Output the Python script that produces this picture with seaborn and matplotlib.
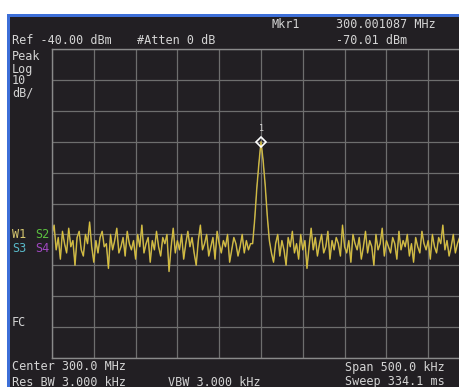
import numpy as np
import pandas as pd
import seaborn as sns
import matplotlib.pyplot as plt
from matplotlib.patches import Rectangle

# trace values (dBm), 201 points over a 500 kHz span centred at 300 MHz
noise_left = [
    -100, -97, -105, -101, -108, -99, -103, -106, -98, -104,
    -102, -110, -101, -99, -105, -107, -100, -103, -96, -104,
    -109, -102, -106, -101, -99, -104, -103, -111, -100, -105,
    -102, -98, -106, -104, -101, -107, -99, -103, -105, -102,
    -108, -100, -104, -97, -106, -103, -101, -109, -102, -105,
    -99, -104, -107, -101, -103, -100, -112, -104, -98, -106,
    -102, -105, -100, -108, -103, -99, -104, -101, -106, -110,
    -102, -97, -105, -103, -100, -107, -104, -101, -108, -99,
    -103, -106, -102, -104, -100, -109, -105, -101, -103, -107,
    -104, -100, -106, -102, -105, -103,
]
peak = [-103, -95, -85, -77, -70.01, -76, -84, -94, -102]
noise_right = [
    -106, -109, -103, -100, -107, -102, -105, -110, -101, -104,
    -99, -106, -103, -108, -100, -105, -102, -111, -104, -98,
    -105, -101, -107, -103, -100, -106, -104, -99, -108, -102,
    -105, -101, -103, -107, -97, -104, -106, -102, -109, -100,
    -103, -105, -101, -108, -104, -99, -106, -102, -104, -110,
    -100, -105, -103, -98, -107, -102, -104, -106, -101, -103,
    -108, -99, -105, -102, -104, -100, -107, -103, -109, -101,
    -104, -106, -99, -103, -105, -102, -108, -100, -104, -106,
    -101, -103, -97, -105, -102, -107, -104, -100, -106, -103,
    -101, -108, -102, -105, -99, -104,
]
center_mhz = 300.0
span_mhz = 0.5
ref_level = -40.0
db_per_div = 10

level = noise_left + peak + noise_right
freq = np.linspace(center_mhz - span_mhz / 2, center_mhz + span_mhz / 2, len(level))
df = pd.DataFrame({'freq': freq, 'level': level})

W, H = 460, 387
BG = '#221f23'
TXT = '#d4d4d4'

sns.set_theme(style='dark')
plt.rcParams['font.family'] = ['DejaVu Sans Mono']

fig = plt.figure(figsize=(W / 100, H / 100), dpi=100, facecolor='white')
# blue frame and dark screen (kept behind the axes)
fig.patches.append(Rectangle((7 / W, 0), 1, (H - 14) / H, transform=fig.transFigure,
                             facecolor='#3d6fd8', edgecolor='none', zorder=-5))
fig.patches.append(Rectangle((10 / W, 0), 1, (H - 17) / H, transform=fig.transFigure,
                             facecolor=BG, edgecolor='none', zorder=-4))

# graticule: left 52px, 418px wide (cut at right edge), top 49px, bottom 358px
ax = fig.add_axes([52 / W, (H - 358) / H, 418 / W, 309 / H])
ax.set_zorder(2)
ax.set_facecolor(BG)
sns.lineplot(data=df, x='freq', y='level', ax=ax, color='#a89c58', linewidth=1.1)
sns.lineplot(data=df, x='freq', y='level', ax=ax, color='#f2d22a', linewidth=0.5, alpha=0.8)

ax.set_xlim(center_mhz - span_mhz / 2, center_mhz + span_mhz / 2)
ax.set_ylim(ref_level - 10 * db_per_div, ref_level)
ax.set_xticks(np.linspace(center_mhz - span_mhz / 2, center_mhz + span_mhz / 2, 11))
ax.set_yticks(np.linspace(ref_level - 10 * db_per_div, ref_level, 11))
ax.set_xticklabels([])
ax.set_yticklabels([])
ax.tick_params(length=0)
ax.grid(True, color='#6e6e6e', linewidth=0.9)
ax.set_axisbelow(True)
ax.set_xlabel('')
ax.set_ylabel('')
for s in ax.spines.values():
    s.set_color('#8a8a8a')
    s.set_linewidth(1.0)

# marker 1
i = int(np.argmax(level))
ax.plot(freq[i], level[i], marker='D', markersize=5, markerfacecolor='none',
        markeredgecolor='white', markeredgewidth=1.2, zorder=5)
ax.annotate('1', (freq[i], level[i]), xytext=(0, 6), textcoords='offset points',
            ha='center', va='bottom', color=TXT, fontsize=6)


def label(x, y, s, color=TXT):
    fig.text(x / W, 1 - y / H, s, color=color, fontsize=8.5, va='center', ha='left')


label(12, 40, 'Ref -40.00 dBm')
label(137, 40, '#Atten 0 dB')
label(271, 25, 'Mkr1')
label(336, 25, '300.001087 MHz')
label(336, 41, '-70.01 dBm')
label(12, 57, 'Peak')
label(12, 69, 'Log')
label(12, 81, '10')
label(12, 93, 'dB/')
label(12, 234, 'W1', '#d8c870')
label(35, 234, 'S2', '#5cc040')
label(12, 249, 'S3', '#58b8c8')
label(35, 249, 'S4', '#a048c0')
label(12, 322, 'FC')
label(12, 367, 'Center 300.0 MHz')
label(12, 382, 'Res BW 3.000 kHz')
label(168, 382, 'VBW 3.000 kHz')
label(345, 367, 'Span 500.0 kHz')
label(345, 382, 'Sweep 334.1 ms')

fig.savefig('out.png', dpi=100, facecolor=fig.get_facecolor())
